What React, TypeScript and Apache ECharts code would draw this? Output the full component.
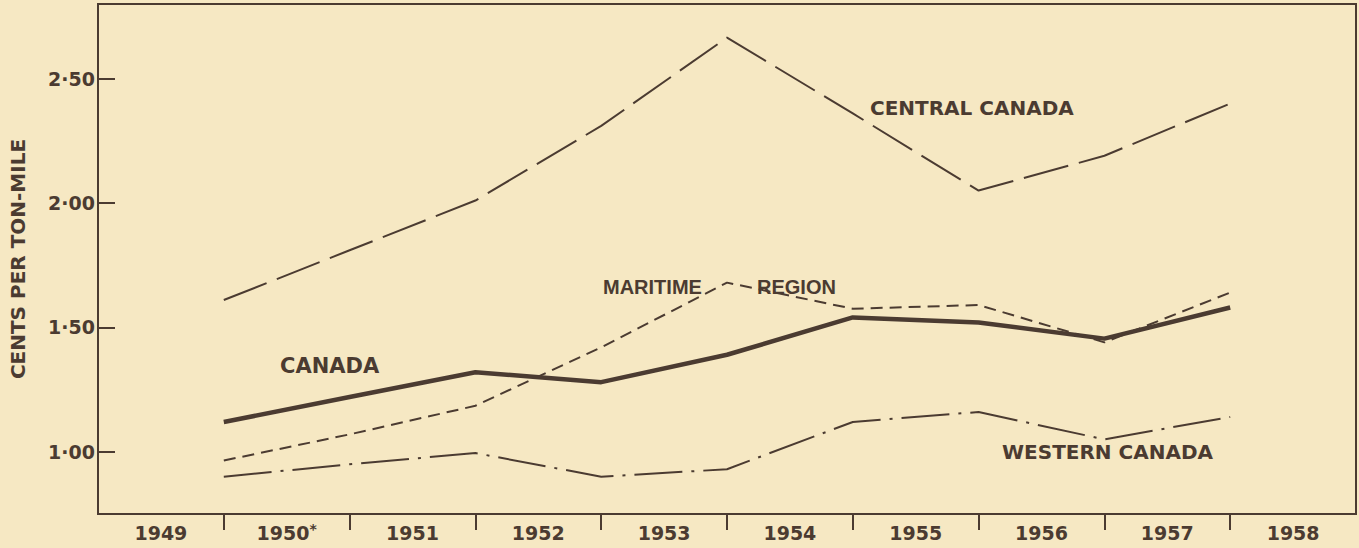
import React, { useEffect, useRef } from "react";
import * as echarts from "echarts";

// Year categories shown along the bottom (labels sit between the ticks)
const years = ["1949", "1950", "1951", "1952", "1953", "1954", "1955", "1956", "1957", "1958"];
const footnoted = ["1950"];
// Data points sit on the year boundaries (position k = end of years[k-1])
const positions = [1, 2, 3, 4, 5, 6, 7, 8, 9];

const canada = [1.12, 1.22, 1.32, 1.28, 1.39, 1.54, 1.52, 1.455, 1.58];
const centralCanada = [1.61, 1.81, 2.01, 2.31, 2.665, 2.36, 2.05, 2.19, 2.4];
const maritimeRegion = [0.965, 1.07, 1.185, 1.42, 1.68, 1.575, 1.59, 1.44, 1.64];
const westernCanada = [0.9, 0.95, 0.995, 0.9, 0.93, 1.12, 1.16, 1.05, 1.14];

const yTicks = [1.0, 1.5, 2.0, 2.5];
const xTicks = [1, 2, 3, 4, 5, 6, 7, 8, 9];
const xLabelPos = [0.5, 1.5, 2.5, 3.5, 4.5, 5.5, 6.5, 7.5, 8.5, 9.5];

const INK = "#4b3b31";
const BG = "#f6e8c3";

function pairs(values: number[]) {
  return values.map((v, i) => [positions[i], v]);
}

export default function App() {
  const ref = useRef<HTMLDivElement>(null);
  useEffect(() => {
    if (!ref.current) return;
    const chart = echarts.init(ref.current, undefined, { renderer: "svg" });
    const lineBase = { type: "line", symbol: "none", silent: true };
    chart.setOption({
      animation: false,
      backgroundColor: BG,
      grid: {
        left: 96,
        right: 3,
        top: 4,
        bottom: 34,
        show: true,
        borderColor: INK,
        borderWidth: 2,
        backgroundColor: "transparent",
      },
      xAxis: {
        type: "value",
        min: 0,
        max: 10,
        splitLine: { show: false },
        axisLine: { show: true, lineStyle: { color: INK, width: 2 } },
        axisTick: {
          show: true,
          customValues: xTicks,
          length: 16,
          lineStyle: { color: INK, width: 2 },
        },
        axisLabel: {
          customValues: xLabelPos,
          margin: 8,
          formatter: (v: number) => {
            const y = years[Math.round(v - 0.5)] ?? "";
            return footnoted.includes(y) ? `{y|${y}}{s|*}` : `{y|${y}}`;
          },
          rich: {
            y: {
              fontFamily: "DejaVu Sans",
              fontWeight: "bold",
              fontSize: 19,
              lineHeight: 22,
              color: INK,
            },
            s: {
              fontFamily: "DejaVu Sans",
              fontWeight: "bold",
              fontSize: 14,
              lineHeight: 12,
              color: INK,
              verticalAlign: "top",
            },
          },
        },
      },
      yAxis: {
        type: "value",
        min: 0.75,
        max: 2.8,
        name: "CENTS PER TON-MILE",
        nameLocation: "middle",
        nameRotate: 90,
        nameGap: 70,
        nameTextStyle: { fontFamily: "DejaVu Sans", fontWeight: "bold", fontSize: 20, color: INK },
        splitLine: { show: false },
        axisLine: { show: true, lineStyle: { color: INK, width: 2 } },
        axisTick: {
          show: true,
          inside: true,
          customValues: yTicks,
          length: 17,
          lineStyle: { color: INK, width: 2 },
        },
        axisLabel: {
          customValues: yTicks,
          margin: 3,
          fontFamily: "DejaVu Sans",
          fontWeight: "bold",
          fontSize: 19,
          color: INK,
          formatter: (v: number) => v.toFixed(2).replace(".", "·"),
        },
      },
      series: [
        {
          ...lineBase,
          name: "CENTRAL CANADA",
          data: pairs(centralCanada),
          lineStyle: { color: INK, width: 2, type: [46, 11] },
        },
        {
          ...lineBase,
          name: "MARITIME REGION",
          data: pairs(maritimeRegion),
          lineStyle: { color: INK, width: 2, type: [12, 7] },
        },
        {
          ...lineBase,
          name: "WESTERN CANADA",
          data: pairs(westernCanada),
          lineStyle: { color: INK, width: 2, type: [48, 9, 3, 9] },
        },
        {
          ...lineBase,
          name: "CANADA",
          data: pairs(canada),
          lineStyle: { color: INK, width: 4.5 },
        },
      ],
      graphic: [
        {
          type: "text",
          x: 870,
          y: 108,
          style: { text: "CENTRAL CANADA", fill: INK, font: "bold 20px 'DejaVu Sans'", verticalAlign: "middle" },
        },
        {
          type: "text",
          x: 280,
          y: 366,
          style: { text: "CANADA", fill: INK, font: "bold 21px 'DejaVu Sans'", verticalAlign: "middle" },
        },
        {
          type: "text",
          x: 603,
          y: 287,
          style: { text: "MARITIME", fill: INK, font: "bold 20px 'Liberation Sans'", verticalAlign: "middle" },
        },
        {
          type: "text",
          x: 757,
          y: 287,
          style: { text: "REGION", fill: INK, font: "bold 20px 'Liberation Sans'", verticalAlign: "middle" },
        },
        {
          type: "text",
          x: 1002,
          y: 452,
          style: { text: "WESTERN CANADA", fill: INK, font: "bold 20px 'DejaVu Sans'", verticalAlign: "middle" },
        },
      ],
    });
    return () => chart.dispose();
  }, []);
  return (
    <div
      ref={ref}
      style={{ position: "fixed", left: 0, top: 0, width: 1359, height: 548, background: BG }}
    />
  );
}
